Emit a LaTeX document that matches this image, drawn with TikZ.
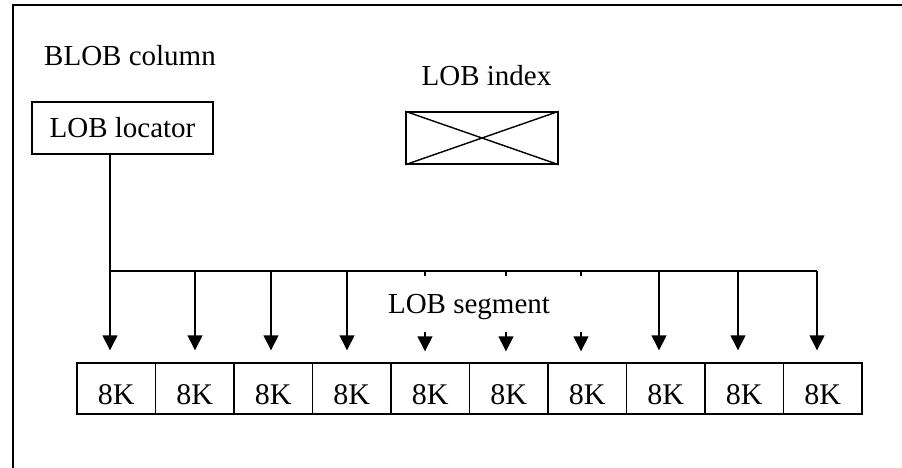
\documentclass[tikz,border=0pt]{standalone}
\usepackage{fontspec}
\setmainfont{Liberation Serif}
\usetikzlibrary{arrows.meta}
\begin{document}
\begin{tikzpicture}[x=1pt,y=-1pt,
  every node/.style={font=\fontsize{29}{34}\selectfont},
  ln/.style={line width=1.4pt},
  frm/.style={line width=1.8pt},
  arr/.style={ln,-{Triangle[width=15pt,length=15pt]}},
  boxn/.style={draw,line width=1.4pt,inner sep=0pt},
  seg/.style={draw,line width=1.4pt,inner sep=0pt,minimum width=78.5pt,minimum height=51pt,
    text height=31pt,text depth=0pt,font=\fontsize{30}{34}\selectfont},
  lbl/.style={inner sep=0pt,anchor=base}]
\useasboundingbox (0,0) rectangle (902,467);
\clip (0,0) rectangle (902,467);
\fill[white] (0,0) rectangle (902,467);
% frame
\draw[frm] (13,5) rectangle (930,500);
% labels
\node[lbl,anchor=base west] (blob) at (44,65) {BLOB column};
\node[lbl] (idxl) at (486.5,85) {LOB index};
\node[lbl] (segl) at (469,313) {LOB segment};
% locator
\node[boxn,minimum width=181pt,minimum height=52pt] (loc) at (122.5,128) {LOB locator};
% index box
\node[boxn,minimum width=152pt,minimum height=52pt] (idx) at (482,138) {};
\draw[ln] (idx.north west) -- (idx.south east);
\draw[ln] (idx.south west) -- (idx.north east);
% segments
\foreach \i in {1,...,10}{
  \node[seg] (s\i) at ({77+78.5*(\i-0.5)},388.5) {8K};
}
% bus taps
\foreach \i/\x in {1/110,2/195,3/271,4/347,5/425,6/506,7/581,8/659,9/738,10/817}{
  \coordinate (t\i) at (\x,271);
}
\draw[ln] (loc.south -| t1) -- (t1) -- (t10);
\foreach \i in {1,2,3,4,8,9,10}{
  \draw[arr] (t\i) -- ([yshift=12pt]t\i |- s\i.north);
}
\foreach \i in {5,6,7}{
  \draw[ln] (t\i) -- ++(0,5);
  \draw[arr] ([yshift=30pt]t\i |- s\i.north) -- ([yshift=11pt]t\i |- s\i.north);
}
\end{tikzpicture}
\end{document}
